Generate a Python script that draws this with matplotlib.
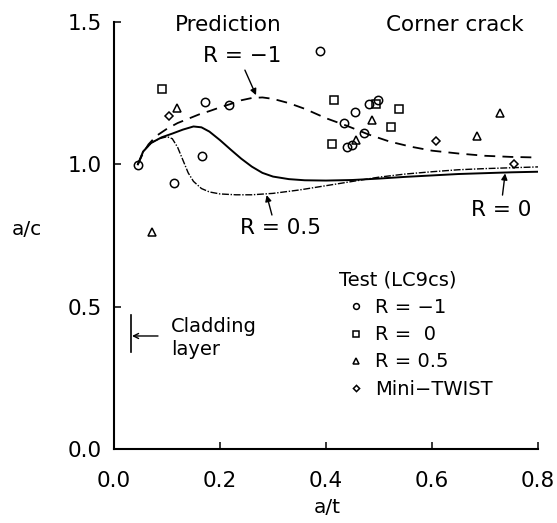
import matplotlib
matplotlib.use("Agg")
import matplotlib.pyplot as plt

# ---------------- data ----------------
# Prediction curves (a/t, a/c)
pred_rm1_x = [0.045, 0.055, 0.065, 0.080, 0.100, 0.120, 0.140, 0.160, 0.180, 0.200, 0.220,
              0.240, 0.260, 0.280, 0.300, 0.330, 0.360, 0.400, 0.440, 0.480, 0.520, 0.560,
              0.600, 0.650, 0.700, 0.750, 0.800]
pred_rm1_y = [1.000, 1.040, 1.070, 1.100, 1.125, 1.145, 1.160, 1.175, 1.187, 1.200, 1.212,
              1.225, 1.233, 1.235, 1.230, 1.215, 1.195, 1.162, 1.135, 1.105, 1.080, 1.062,
              1.048, 1.038, 1.030, 1.026, 1.024]

pred_r0_x = [0.045, 0.055, 0.070, 0.090, 0.110, 0.130, 0.150, 0.165, 0.180, 0.200, 0.220,
             0.240, 0.260, 0.280, 0.300, 0.330, 0.360, 0.400, 0.450, 0.500, 0.550, 0.600,
             0.650, 0.700, 0.750, 0.800]
pred_r0_y = [1.000, 1.045, 1.075, 1.095, 1.108, 1.122, 1.133, 1.130, 1.115, 1.085, 1.052,
             1.020, 0.992, 0.970, 0.957, 0.948, 0.944, 0.943, 0.945, 0.950, 0.956, 0.961,
             0.966, 0.969, 0.972, 0.974]

pred_r05_x = [0.045, 0.055, 0.070, 0.085, 0.100, 0.110, 0.120, 0.130, 0.140, 0.150, 0.165,
              0.180, 0.200, 0.230, 0.260, 0.300, 0.350, 0.400, 0.450, 0.500, 0.550, 0.600,
              0.650, 0.700, 0.750, 0.800]
pred_r05_y = [1.000, 1.045, 1.075, 1.090, 1.097, 1.090, 1.060, 1.015, 0.970, 0.940, 0.915,
              0.903, 0.896, 0.893, 0.893, 0.898, 0.910, 0.925, 0.940, 0.955, 0.966, 0.974,
              0.981, 0.985, 0.988, 0.991]

# Test data (LC9cs)
test_rm1_x = [0.045, 0.114, 0.166, 0.172, 0.217, 0.389, 0.434, 0.439, 0.449, 0.455, 0.472,
              0.481, 0.498]
test_rm1_y = [0.998, 0.935, 1.029, 1.220, 1.208, 1.399, 1.144, 1.060, 1.068, 1.185, 1.109,
              1.212, 1.226]

test_r0_x = [0.090, 0.415, 0.412, 0.495, 0.523, 0.538]
test_r0_y = [1.263, 1.226, 1.071, 1.212, 1.132, 1.194]

test_r05_x = [0.071, 0.118, 0.457, 0.487, 0.684, 0.728]
test_r05_y = [0.763, 1.197, 1.085, 1.156, 1.099, 1.179]

test_twist_x = [0.104, 0.608, 0.755]
test_twist_y = [1.170, 1.083, 1.000]

legend_labels = ["R = \u22121", "R =  0", "R = 0.5", "Mini\u2212TWIST"]
x_ticks = [0.0, 0.2, 0.4, 0.6, 0.8]
y_ticks = [0.0, 0.5, 1.0, 1.5]
cladding_at = 0.032

# ---------------- figure ----------------
W, H = 557, 523
fig = plt.figure(figsize=(W / 100, H / 100), dpi=100)
ax = fig.add_axes([114 / W, 1 - 449 / H, 424 / W, 427 / H])

ax.plot(pred_rm1_x, pred_rm1_y, color="black", lw=1.3, dashes=(6, 4))
ax.plot(pred_r0_x, pred_r0_y, color="black", lw=1.4, ls="-")
ax.plot(pred_r05_x, pred_r05_y, color="black", lw=1.0, dashes=(5, 1.2, 1, 1.2))

mk = dict(ls="none", mfc="none", mec="black", mew=1.1)
h1, = ax.plot(test_rm1_x, test_rm1_y, marker="o", ms=6, **mk)
h2, = ax.plot(test_r0_x, test_r0_y, marker="s", ms=5.5, **mk)
h3, = ax.plot(test_r05_x, test_r05_y, marker="^", ms=6, **mk)
h4, = ax.plot(test_twist_x, test_twist_y, marker="D", ms=4.5, **mk)

ax.set_xlim(0, 0.8)
ax.set_ylim(0, 1.5)
ax.set_xticks(x_ticks)
ax.set_yticks(y_ticks)
ax.set_xticklabels([f"{v:.1f}" for v in x_ticks])
ax.set_yticklabels([f"{v:.1f}" for v in y_ticks])
ax.tick_params(direction="in", length=5, width=1.1, labelsize=15.5)
ax.tick_params(axis="x", pad=16)
ax.tick_params(axis="y", pad=9)
for s in ("top", "right"):
    ax.spines[s].set_visible(False)
for s in ("left", "bottom"):
    ax.spines[s].set_linewidth(1.5)

ax.set_xlabel("a/t", fontsize=14.5, va="center")
ax.xaxis.set_label_coords(0.502, -0.138)
ax.set_ylabel("a/c", fontsize=14.5, rotation=0, ha="center", va="center")
ax.yaxis.set_label_coords(-0.205, 0.513)

# annotations
tfs = 15.5
ax.text(0.215, 1.49, "Prediction", fontsize=tfs, ha="center", va="center")
ax.text(0.643, 1.49, "Corner crack", fontsize=tfs, ha="center", va="center")
ax.text(0.241, 1.38, "R = \u22121", fontsize=tfs, ha="center", va="center")
ax.text(0.315, 0.776, "R = 0.5", fontsize=tfs, ha="center", va="center")
ax.text(0.731, 0.839, "R = 0", fontsize=tfs, ha="center", va="center")

ap = dict(arrowstyle="-|>", color="black", lw=1.0, mutation_scale=9,
          shrinkA=0, shrinkB=0)
ax.annotate("", xy=(0.268, 1.243), xytext=(0.247, 1.331), arrowprops=ap)
ax.annotate("", xy=(0.288, 0.892), xytext=(0.298, 0.822), arrowprops=ap)
ax.annotate("", xy=(0.738, 0.968), xytext=(0.733, 0.892), arrowprops=ap)

# cladding layer
ax.plot([cladding_at, cladding_at], [0.34, 0.47], color="black", lw=1.2)
ax.annotate("", xy=(cladding_at + 0.002, 0.397), xytext=(0.083, 0.397),
            arrowprops=dict(arrowstyle="->", color="black", lw=1.0,
                            mutation_scale=9, shrinkA=0, shrinkB=0))
ax.text(0.108, 0.432, "Cladding", fontsize=14, ha="left", va="center")
ax.text(0.108, 0.350, "layer", fontsize=14, ha="left", va="center")

leg = ax.legend([h1, h2, h3, h4], legend_labels, title="Test (LC9cs)",
                loc="upper left", bbox_to_anchor=(339 / W, 1 - 271 / H),
                bbox_transform=fig.transFigure, frameon=False, fontsize=14,
                title_fontsize=14, handlelength=1.8, handletextpad=0.05,
                labelspacing=0.42, borderpad=0, borderaxespad=0,
                markerscale=0.7)
leg._legend_box.align = "left"

fig.savefig("out.png", dpi=100)
